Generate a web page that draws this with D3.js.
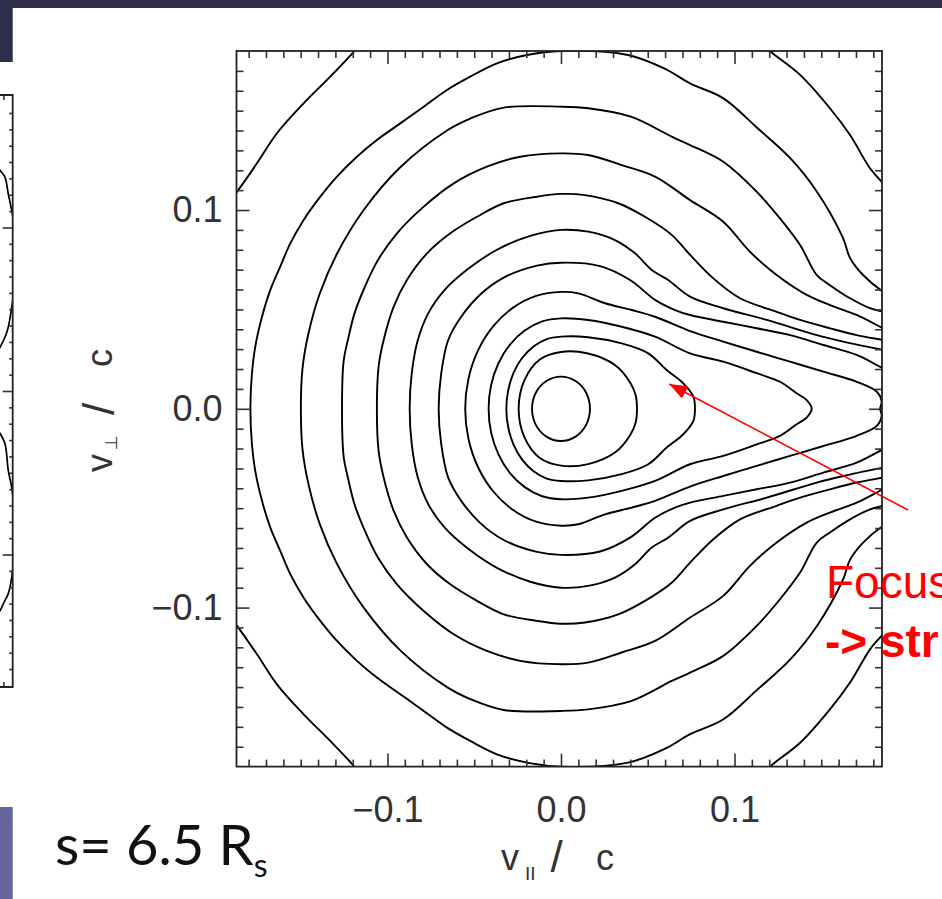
<!DOCTYPE html>
<html>
<head>
<meta charset="utf-8">
<style>
body { margin: 0; background: #fff; }
svg { display: block; }
</style>
</head>
<body>
<svg width="942" height="899"></svg>
<script src="https://d3js.org/d3.v7.min.js"></script>
<script>

// contour lines of f(v_par, v_perp), upper half only (v_perp >= 0).
// the distribution is gyrotropic so the lower half is the mirror image.
// open rings leave the box on the right, closed ones are drawn as loops
var ring0Left = [[-0.190,0.1056],[-0.1867,0.1092],[-0.1752,0.1235],[-0.1637,0.1386],[-0.1483,0.1537],[-0.1330,0.1671],[-0.1195,0.1796],[-0.1170,0.1825]]
var ring0Right = [[0.1182,0.1825],[0.1205,0.1800],[0.1378,0.1680],[0.1550,0.1512],[0.1666,0.1377],[0.1781,0.1210],[0.1856,0.1134],[0.1896,0.1091]]

var ring1 = [[-0.1790,0],[-0.1781,0.0179],[-0.1762,0.0312],[-0.1723,0.0463],[-0.1675,0.0598],[-0.1618,0.0715],[-0.1560,0.0832],[-0.1483,0.0950],[-0.1387,0.1067],[-0.1291,0.1168],[-0.1176,0.1268],[-0.1061,0.1352],[-0.0926,0.1436],[-0.0791,0.1520],[-0.0657,0.1604],[-0.0523,0.1671],[-0.0369,0.1738],[-0.0196,0.1780],[0,0.1800],[0.0386,0.1780],[0.0600,0.1710],[0.0744,0.1637],[0.0934,0.1563],[0.1130,0.1414],[0.1320,0.1262],[0.1476,0.1091],[0.1625,0.0860],[0.1666,0.0759],[0.1741,0.0673],[0.1856,0.0589],[0.1920,0.0560]]
var ring2 = [[-0.1499,0],[-0.1490,0.0200],[-0.1455,0.0380],[-0.1390,0.0580],[-0.1291,0.0780],[-0.1137,0.1000],[-0.0926,0.1215],[-0.0657,0.1400],[-0.0523,0.1460],[-0.0330,0.1515],[0,0.1520],[0.0157,0.1512],[0.0407,0.1469],[0.0638,0.1369],[0.0744,0.1327],[0.0935,0.1243],[0.1128,0.1092],[0.1262,0.0958],[0.1378,0.0824],[0.1474,0.0673],[0.1550,0.0622],[0.1666,0.0556],[0.1781,0.0506],[0.1856,0.0488],[0.1920,0.0470]]
var ring3 = [[-0.1262,0],[-0.1252,0.0245],[-0.1228,0.0346],[-0.1190,0.0480],[-0.1130,0.0614],[-0.1055,0.0748],[-0.0945,0.0883],[-0.0791,0.1017],[-0.0618,0.1134],[-0.0427,0.1218],[-0.0235,0.1268],[0,0.1285],[0.0156,0.1277],[0.0350,0.1226],[0.0542,0.1168],[0.0744,0.1050],[0.0935,0.0941],[0.1089,0.0790],[0.1243,0.0673],[0.1416,0.0573],[0.1550,0.0522],[0.1704,0.0472],[0.1856,0.0405],[0.1920,0.0380]]
var ring4 = [[-0.1061,0],[-0.1051,0.0212],[-0.1022,0.0346],[-0.0964,0.0514],[-0.0888,0.0648],[-0.0772,0.0782],[-0.0638,0.0883],[-0.0484,0.0966],[-0.0330,0.1034],[-0.0138,0.1067],[0,0.1081],[0.0138,0.1075],[0.0330,0.1034],[0.0484,0.0966],[0.0638,0.0875],[0.0744,0.0774],[0.0878,0.0656],[0.1032,0.0556],[0.1243,0.0488],[0.1378,0.0447],[0.1550,0.0405],[0.1704,0.0371],[0.1856,0.0346],[0.1920,0.0335]]
var ring5 = [[-0.0872,0],[-0.0860,0.0179],[-0.0825,0.0346],[-0.0765,0.0480],[-0.0670,0.0598],[-0.0542,0.0699],[-0.0369,0.0800],[-0.0177,0.0870],[0,0.0900],[0.0157,0.0891],[0.0311,0.0849],[0.0427,0.0782],[0.0523,0.0698],[0.0618,0.0648],[0.0744,0.0564],[0.0935,0.0506],[0.1186,0.0447],[0.1474,0.0371],[0.1627,0.0338],[0.1856,0.0296],[0.1920,0.0285]]
var ring6 = [[-0.0705,0],[-0.0690,0.0179],[-0.0650,0.0346],[-0.0575,0.0463],[-0.0465,0.0575],[-0.0330,0.0660],[-0.0138,0.0720],[0,0.0735],[0.0225,0.0718],[0.0398,0.0648],[0.0542,0.0548],[0.0657,0.0497],[0.0744,0.0472],[0.0935,0.0438],[0.1128,0.0405],[0.1320,0.0371],[0.1512,0.0321],[0.1704,0.0271],[0.1856,0.0204],[0.1920,0.0180]]
var ring7 = [[-0.0552,0],[-0.0533,0.0152],[-0.0478,0.0294],[-0.0390,0.0416],[-0.0276,0.0509],[-0.0143,0.0568],[0,0.0588],[0.0100,0.0581],[0.0254,0.0531],[0.0407,0.0497],[0.0542,0.0463],[0.0744,0.0391],[0.0935,0.0338],[0.1128,0.0287],[0.1320,0.0237],[0.1512,0.0187],[0.1704,0.0136],[0.1820,0.0086],[0.1848,0.0036],[0.1839,0]]
var ring8 = [[-0.0417,0],[-0.0403,0.0118],[-0.0361,0.0228],[-0.0295,0.0322],[-0.0209,0.0394],[-0.0108,0.0440],[0,0.0455],[0.0156,0.0447],[0.0350,0.0413],[0.0542,0.0363],[0.0744,0.0279],[0.0935,0.0237],[0.1128,0.0179],[0.1262,0.0136],[0.1358,0.0078],[0.1416,0.0044],[0.1445,0]]
var ring9 = [[-0.0315,0],[-0.0304,0.0094],[-0.0273,0.0182],[-0.0223,0.0257],[-0.0158,0.0314],[-0.0082,0.0351],[0,0.0363],[0.0156,0.0360],[0.0350,0.0329],[0.0503,0.0279],[0.0609,0.0195],[0.0705,0.0128],[0.0763,0.0061],[0.0772,0]]
var ring10 = [[-0.0244,0],[-0.0211,0.0143],[-0.0122,0.0248],[0,0.0286],[0.0156,0.0278],[0.0311,0.0220],[0.0400,0.0130],[0.0430,0.0070],[0.0438,0]]
var ring11 = [[-0.0167,0],[-0.0145,0.0081],[-0.0084,0.0140],[0,0.0162],[0.0084,0.0140],[0.0145,0.0081],[0.0167,0]]

var openRings = [ring1, ring2, ring3, ring4, ring5, ring6]
var closedRings = [ring7, ring8, ring9, ring10, ring11]
var cornerPieces = [ring0Left, ring0Right]

// edge of the neighbouring panel (only its right border is on the slide)
var leftPanelUpper = [[0.1742,0.1390],[0.1777,0.1349],[0.1811,0.1308],[0.1834,0.1206],[0.1858,0.1104],[0.1874,0.1024],[0.1888,0.0829],[0.1874,0.0615],[0.1858,0.0513],[0.1834,0.0390],[0.1811,0.0329],[0.1777,0.0268],[0.1742,0.0217]]
var leftPanelLower = [[0.1742,-0.0211],[0.1777,-0.0260],[0.1811,-0.0321],[0.1834,-0.0486],[0.1858,-0.0590],[0.1881,-0.0792],[0.1874,-0.1006],[0.1858,-0.1141],[0.1834,-0.1239],[0.1800,-0.1300],[0.1777,-0.1343],[0.1742,-0.1385]]

var majorTicks = [-0.1, 0, 0.1]
var majorLabels = ['\u22120.1', '0.0', '0.1']

// red annotation arrow: from (v_par, v_perp) to (v_par, v_perp)
var arrowFrom = [0.200, -0.0509]
var arrowTo = [0.0624, 0.0125]

var svg = d3.select('svg')

// slide decoration
svg.append('rect').attr('x', 0).attr('y', 0).attr('width', 942).attr('height', 8).style('fill', '#2e2d4b')
svg.append('rect').attr('x', 0).attr('y', 0).attr('width', 12.7).attr('height', 62).style('fill', '#2e2d4b')
svg.append('rect').attr('x', 0).attr('y', 807).attr('width', 12.7).attr('height', 92).style('fill', '#64649a')

var boxL = 236.5, boxR = 882, boxT = 51, boxB = 766.6

var x = d3.scaleLinear().domain([-0.187, 0.185]).range([boxL, boxR])
var y = d3.scaleLinear().domain([-0.18, 0.18]).range([boxB, boxT])

function mirror(half) {
	return half.map(function(p) { return [p[0], -p[1]] })
}
function openRing(half) {
	return mirror(half).reverse().concat(half.slice(1))
}
function closedRing(half) {
	return half.concat(mirror(half).reverse().slice(1, -1))
}

var defs = svg.append('defs')
defs.append('clipPath').attr('id', 'box')
	.append('rect').attr('x', boxL).attr('y', boxT).attr('width', boxR - boxL).attr('height', boxB - boxT)
defs.append('clipPath').attr('id', 'leftbox')
	.append('rect').attr('x', -200).attr('y', 95).attr('width', 212.7).attr('height', 592)

defs.append('marker').attr('id', 'head')
	.attr('markerUnits', 'userSpaceOnUse')
	.attr('markerWidth', 20).attr('markerHeight', 16)
	.attr('refX', 18).attr('refY', 7)
	.attr('orient', 'auto')
	.append('path').attr('d', 'M0,0 L18,7 L0,14 Z').style('fill', '#ff0000')

var line = d3.line().x(function(d) { return x(d[0]) }).y(function(d) { return y(d[1]) })

var plot = svg.append('g').attr('clip-path', 'url(#box)')

openRings.forEach(function(r) {
	plot.append('path').attr('d', line.curve(d3.curveCatmullRom)(openRing(r)))
})
closedRings.forEach(function(r) {
	plot.append('path').attr('d', line.curve(d3.curveCatmullRomClosed)(closedRing(r)))
})
cornerPieces.forEach(function(r) {
	plot.append('path').attr('d', line.curve(d3.curveCatmullRom)(r))
	plot.append('path').attr('d', line.curve(d3.curveCatmullRom)(mirror(r)))
})
plot.selectAll('path').style('fill', 'none').style('stroke', '#000').style('stroke-width', 1.9)

// axes, ticks pointing inward on all four sides
var minorTicks = d3.range(-18, 19).map(function(i) { return i / 100 }).filter(function(v) { return Math.abs(v * 10 - Math.round(v * 10)) > 1e-6 })
var innerMinor = minorTicks.filter(function(v) { return Math.abs(v) < 0.175 })
var fmt = function(d) { return majorLabels[majorTicks.indexOf(d)] }

function addAxis(axis, tx, ty) {
	var g = svg.append('g').attr('transform', 'translate(' + tx + ',' + ty + ')').call(axis)
	g.select('.domain').remove()
	g.selectAll('line').style('stroke', '#333').style('stroke-width', 1.6)
	g.selectAll('text').style('font-family', '"Liberation Sans", Arial, sans-serif').style('font-size', '36px').style('fill', '#333')
	return g
}

addAxis(d3.axisBottom(x).tickValues(majorTicks).tickSize(-13).tickPadding(30).tickFormat(fmt), 0, boxB)
addAxis(d3.axisBottom(x).tickValues(minorTicks).tickSize(-7).tickFormat(''), 0, boxB)
addAxis(d3.axisTop(x).tickValues(majorTicks).tickSize(-13).tickFormat(''), 0, boxT)
addAxis(d3.axisTop(x).tickValues(minorTicks).tickSize(-7).tickFormat(''), 0, boxT)
addAxis(d3.axisLeft(y).tickValues(majorTicks).tickSize(-13).tickPadding(14).tickFormat(fmt), boxL, 0)
addAxis(d3.axisLeft(y).tickValues(innerMinor).tickSize(-7).tickFormat(''), boxL, 0)
addAxis(d3.axisRight(y).tickValues(majorTicks).tickSize(-13).tickFormat(''), boxR, 0)
addAxis(d3.axisRight(y).tickValues(innerMinor).tickSize(-7).tickFormat(''), boxR, 0)

svg.append('rect').attr('x', boxL).attr('y', boxT).attr('width', boxR - boxL).attr('height', boxB - boxT)
	.style('fill', 'none').style('stroke', '#222').style('stroke-width', 1.8)

// axis titles
var titleFont = '"Liberation Sans", Arial, sans-serif'
var xt = svg.append('text').attr('transform', 'translate(556.5,870)')
	.style('font-family', titleFont).style('font-size', '36px').style('fill', '#333')
xt.append('tspan').attr('x', -55.5).attr('y', 0).text('v')
xt.append('tspan').attr('x', -31.5).attr('y', 10).style('font-size', '19px').text('II')
xt.append('tspan').attr('x', -6).attr('y', 2).style('font-size', '44px').text('/')
xt.append('tspan').attr('x', 39.5).attr('y', 0).text('c')

var yt = svg.append('text').attr('transform', 'translate(111.7,411) rotate(-90)')
	.style('font-family', titleFont).style('font-size', '36px').style('fill', '#333')
yt.append('tspan').attr('x', -61).attr('y', 0).text('v')
yt.append('tspan').attr('x', -39).attr('y', 5).style('font-size', '17px').style('font-family', '"DejaVu Sans", sans-serif').text('\u22a5')
yt.append('tspan').attr('x', -4).attr('y', 2).style('font-size', '44px').text('/')
yt.append('tspan').attr('x', 44).attr('y', 0).text('c')

// neighbouring panel, cut by the slide edge
var xL = d3.scaleLinear().domain([0.1, 0.1865]).range([12.7 - 124, 12.7])
var yL = d3.scaleLinear().domain([-0.181, 0.181]).range([687, 95])
var lineL = d3.line().x(function(d) { return xL(d[0]) }).y(function(d) { return yL(d[1]) }).curve(d3.curveCatmullRom)
var lp = svg.append('g').attr('clip-path', 'url(#leftbox)')
;[leftPanelUpper, leftPanelLower].forEach(function(r) {
	lp.append('path').attr('d', lineL(r)).style('fill', 'none').style('stroke', '#000').style('stroke-width', 1.7)
})
var lAxisMaj = svg.append('g').attr('transform', 'translate(12.7,0)').call(d3.axisRight(yL).tickValues(majorTicks).tickSize(-10).tickFormat(''))
var lAxisMin = svg.append('g').attr('transform', 'translate(12.7,0)').call(d3.axisRight(yL).tickValues(innerMinor).tickSize(-3.5).tickFormat(''))
var lAxisTop = svg.append('g').attr('transform', 'translate(0,95)').call(d3.axisTop(xL).tickValues([0.18]).tickSize(-5).tickFormat(''))
var lAxisBot = svg.append('g').attr('transform', 'translate(0,687)').call(d3.axisBottom(xL).tickValues([0.18]).tickSize(-5).tickFormat(''))
;[lAxisMaj, lAxisMin, lAxisTop, lAxisBot].forEach(function(g) {
	g.select('.domain').remove()
	g.selectAll('line').style('stroke', '#333').style('stroke-width', 1.6)
})
svg.append('path').attr('d', 'M0,95 H12.7 V687 H0').style('fill', 'none').style('stroke', '#222').style('stroke-width', 1.8)

// annotation
svg.append('line')
	.attr('x1', x(arrowFrom[0])).attr('y1', y(arrowFrom[1]))
	.attr('x2', x(arrowTo[0])).attr('y2', y(arrowTo[1]))
	.attr('marker-end', 'url(#head)')
	.style('stroke', '#ff0000').style('stroke-width', 1.6)

svg.append('text').attr('x', 826).attr('y', 598)
	.style('font-family', '"Liberation Sans", Arial, sans-serif').style('font-size', '46px').style('fill', '#ff0000')
	.text('Focus')
svg.append('text').attr('x', 825).attr('y', 657)
	.style('font-family', '"Liberation Sans", Arial, sans-serif').style('font-size', '46px').style('font-weight', 'bold').style('fill', '#ff0000')
	.text('-> str')

// position label
var lab = svg.append('text').attr('x', 55).attr('y', 865)
	.style('font-family', 'Lato, "Open Sans", sans-serif').style('font-size', '56px').style('fill', '#111')
lab.append('tspan').text('s= 6.5 R')
lab.append('tspan').attr('dy', 12).style('font-size', '32px').text('s')

</script>
</body>
</html>
